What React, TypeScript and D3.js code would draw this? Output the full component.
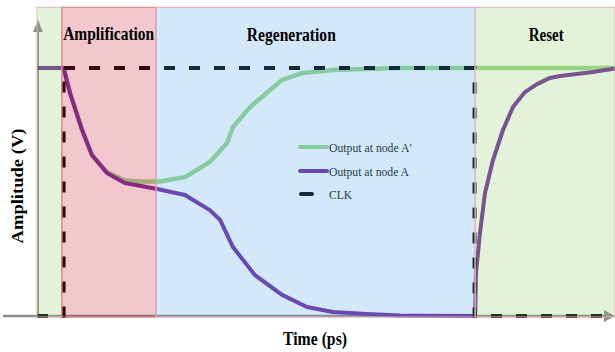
import React from 'react'
import * as d3 from 'd3'

const W = 615
const H = 352

// time in arbitrary ps units (0..100), amplitude normalised (0..1)
const phaseNames = ['', 'Amplification', 'Regeneration', 'Reset']
const phaseStart = [0, 4.3, 20.6, 75.8]
const phaseEnd = [4.3, 20.6, 75.8, 100]
const titleTime = [0, 12.4, 44.0, 88.1]

// output at node A (purple)
const timeA = [0, 4.6, 5.7, 7.8, 9.5, 12.1, 15.2, 20.8, 25.6, 29.9, 31.7, 33.9, 37.7, 42.4, 46.7, 51.2, 57.1, 62.8, 75.8,
  75.95, 76.64, 77.51, 78.89, 80.62, 82.35, 84.43, 86.51, 88.75, 90.48, 96.19, 100]
const ampA = [1, 1, 0.9, 0.75, 0.649, 0.577, 0.536, 0.512, 0.488, 0.427, 0.387, 0.278, 0.165, 0.085, 0.036, 0.016, 0.008, 0.002, 0,
  0.173, 0.335, 0.496, 0.629, 0.75, 0.843, 0.903, 0.935, 0.96, 0.968, 0.984, 0.998]

// output at node A' (green)
const timeB = [0, 4.6, 5.7, 7.8, 9.5, 12.1, 15.2, 17.8, 21.3, 25.6, 29.9, 32.9, 33.9, 36.9, 42.4, 46.0, 51.2, 62.8, 100]
const ampB = [1, 1, 0.9, 0.75, 0.649, 0.58, 0.546, 0.542, 0.542, 0.56, 0.621, 0.698, 0.762, 0.843, 0.952, 0.98, 0.992, 1, 1]

const clkTime = [0, 4.6, 4.6, 75.7, 75.7, 100]
const clkLevel = [0, 0, 1, 1, 0, 0]

const legendLabels = ['Output at node A\u2032', 'Output at node A', 'CLK']

const phaseFill = ['#8fcf6b', '#cb233b', '#4fa7e7', '#8fcf6b']
const serif = '"Liberation Serif", "Times New Roman", serif'

export default function App() {
  const x = d3.scaleLinear().domain([0, 100]).range([37, 615])
  const y = d3.scaleLinear().domain([0, 1]).range([316, 68])

  const line = d3.line<[number, number]>()
    .x(d => x(d[0]))
    .y(d => y(d[1]))
    .curve(d3.curveLinear)

  const pathA = line(timeA.map((t, i) => [t, ampA[i]]))
  const pathB = line(timeB.map((t, i) => [t, ampB[i]]))
  const pathClk = line(clkTime.map((t, i) => [t, clkLevel[i]]))

  const top = y(1.245)
  const axisCol = '#8a8a86'

  return (
    <svg width={W} height={H} style={{ position: 'absolute', left: 0, top: 0, display: 'block' }}>
      <rect width={W} height={H} fill="white" />

      {/* axes */}
      <line x1={38} x2={38} y1={y(0)} y2={30} stroke={axisCol} strokeWidth={2} />
      <path d="M33,32 L38,20 L43,32 Z" fill={axisCol} />
      <line x1={3} x2={607} y1={y(0)} y2={y(0)} stroke={axisCol} strokeWidth={2.5} />
      <path d="M604,310 L615,316 L604,322 Z" fill={axisCol} />

      {/* curves */}
      <path d={pathB!} fill="none" stroke="#98d888" strokeWidth={4.5} strokeLinejoin="round" />
      <path d={pathA!} fill="none" stroke="#702b9e" strokeWidth={4} strokeLinejoin="round" />
      <path d={pathClk!} fill="none" stroke="#000" strokeWidth={4} strokeDasharray="11 14" />

      {/* legend */}
      <g fontFamily={serif} fontSize={13} fill="#111">
        <line x1={300} x2={327} y1={147} y2={147} stroke="#98d888" strokeWidth={4} strokeLinecap="round" />
        <line x1={300} x2={327} y1={171} y2={171} stroke="#702b9e" strokeWidth={4} strokeLinecap="round" />
        <line x1={301} x2={312} y1={194} y2={194} stroke="#000" strokeWidth={4} strokeLinecap="round" />
        <text x={329} y={151.5} textLength={83} lengthAdjust="spacingAndGlyphs">{legendLabels[0]}</text>
        <text x={329} y={175.5} textLength={80} lengthAdjust="spacingAndGlyphs">{legendLabels[1]}</text>
        <text x={329} y={198.5} textLength={23} lengthAdjust="spacingAndGlyphs">{legendLabels[2]}</text>
      </g>

      {/* phase overlays */}
      {phaseNames.map((n, i) => (
        <rect key={i} x={x(phaseStart[i])} y={top} width={x(phaseEnd[i]) - x(phaseStart[i])} height={y(0) + 1 - top}
          fill={phaseFill[i]} fillOpacity={0.25}
          stroke={i === 1 ? '#d77c86' : '#e6b0b6'} strokeWidth={1} />
      ))}

      {/* phase titles */}
      <g fontFamily={serif} fontSize={18} fontWeight="bold" fill="#000" textAnchor="middle">
        {phaseNames.map((n, i) => n && (
          <text key={i} x={x(titleTime[i])} y={i === 1 ? 39.5 : 41}
            textLength={[0, 91, 89, 35][i]} lengthAdjust="spacingAndGlyphs">{n}</text>
        ))}
      </g>

      {/* axis titles */}
      <text x={315} y={345} fontFamily={serif} fontSize={18} fontWeight="bold" textAnchor="middle"
        textLength={64} lengthAdjust="spacingAndGlyphs">Time (ps)</text>
      <text transform="translate(23,186) rotate(-90)" fontFamily={serif} fontSize={17} fontWeight="bold"
        textAnchor="middle" textLength={115} lengthAdjust="spacingAndGlyphs">Amplitude (V)</text>
    </svg>
  )
}
